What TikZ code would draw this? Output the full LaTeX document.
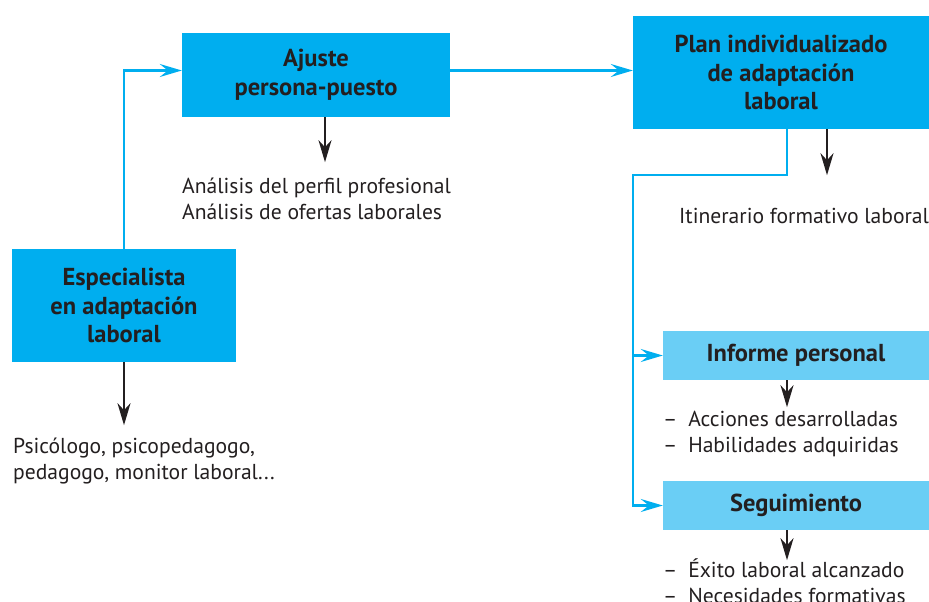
\documentclass[tikz,border=0pt]{standalone}
\usepackage{fontspec}
\setmainfont{PT Sans}
\usetikzlibrary{arrows.meta}
\definecolor{boxblue}{RGB}{0,174,239}
\definecolor{boxlight}{RGB}{106,206,245}
\definecolor{ink}{RGB}{35,31,32}
\newcommand{\stacked}[1]{\vtop{\halign{##\hfil\cr#1\crcr}}}
\begin{document}
\begin{tikzpicture}[x=1pt,y=-1pt,
  box/.style={fill=boxblue, inner sep=0pt, align=center, text=ink,
    font=\bfseries\fontsize{24.5}{28.7}\selectfont},
  subbox/.style={box, fill=boxlight, minimum width=266pt, minimum height=49pt},
  note/.style={inner sep=0pt, anchor=base west, text=ink,
    font=\fontsize{21.6}{26}\selectfont},
  flow/.style={draw=boxblue, line width=2.4pt,
    -{Stealth[length=22pt,width=13pt,inset=8pt]}},
  down/.style={draw=ink, line width=2.4pt,
    -{Stealth[length=22pt,width=13pt,inset=7pt]}}]
\useasboundingbox (0,0) rectangle (929,602);

% main boxes
\node[box, minimum width=268pt, minimum height=84pt] (ajuste) at (316,75) {Ajuste\\persona-puesto};
\node[box, minimum width=296pt, minimum height=113pt] (plan) at (781,72.5) {Plan individualizado\\de adaptación\\laboral};
\node[box, minimum width=224pt, minimum height=113pt] (esp) at (124,305.5) {Especialista\\en adaptación\\laboral};
\node[subbox] (informe) at (796,355.5) {Informe personal};
\node[subbox] (segui) at (796,505.5) {Seguimiento};

% notes under the boxes
\node[note] (anal) at (182,193) {\stacked{Análisis del perfil profesional\cr Análisis de ofertas laborales}};
\node[note] (itin) at (679,223) {Itinerario formativo laboral};
\node[note] (psic) at (13,453) {\stacked{Psicólogo, psicopedagogo,\cr pedagogo, monitor laboral...}};
\node[note] (acc) at (663,426) {\stacked{–\enspace Acciones desarrolladas\cr –\enspace Habilidades adquiridas}};
\node[note] (exito) at (663,577) {\stacked{–\enspace Éxito laboral alcanzado\cr –\enspace Necesidades formativas}};

% blue flow lines
\coordinate (bend) at (633,175);
\coordinate (split) at (bend |- informe.west);
\draw[flow] (esp.north) |- ([yshift=4.5pt]ajuste.west);
\draw[flow] ([yshift=4.5pt]ajuste.east) -- ([yshift=4.5pt]ajuste.east -| plan.west);
\draw[flow] ([xshift=6pt]plan.south) |- (bend) |- (segui.west);
\draw[flow] (split) -- (informe.west);

% black arrows to the notes
\draw[down] ([xshift=9pt]ajuste.south) -- ++(0,45);
\draw[down] (esp.south) -- ++(0,63);
\draw[down] ([xshift=46pt]plan.south) -- ++(0,46);
\draw[down] ([xshift=-9pt]informe.south) -- ++(0,27);
\draw[down] ([xshift=-9pt]segui.south) -- ++(0,30);
\end{tikzpicture}
\end{document}
